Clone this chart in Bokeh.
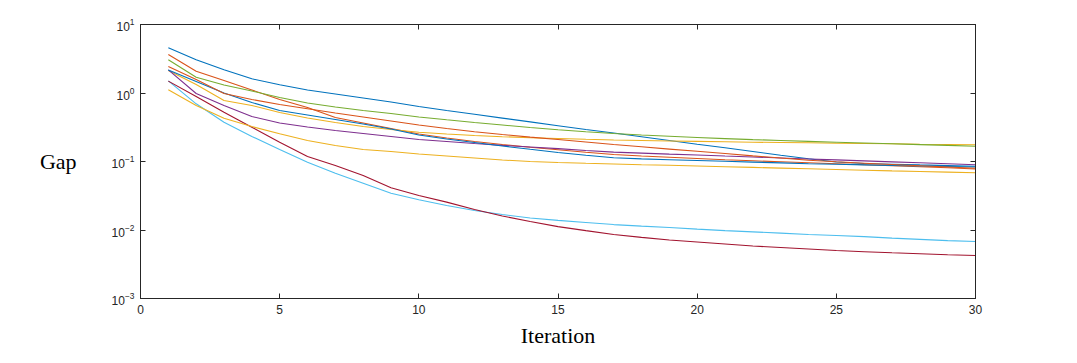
from bokeh.plotting import figure
from bokeh.models import LinearAxis, LogAxis, FixedTicker, Range1d, CustomJSTickFormatter
from bokeh.embed import file_html
from bokeh.resources import INLINE

iterations = list(range(1, 31))

blue_a = [4.57, 3.05, 2.18, 1.61, 1.318, 1.106, 0.967, 0.845, 0.739, 0.635, 0.556, 0.489, 0.430, 0.379, 0.333,
          0.293, 0.260, 0.2296, 0.203, 0.179, 0.1585, 0.140, 0.1236, 0.1094, 0.0984, 0.0935, 0.0914, 0.0892, 0.0871, 0.0851]
orange_a = [3.65, 2.08, 1.52, 1.106, 0.803, 0.614, 0.439, 0.365, 0.303, 0.252, 0.2203, 0.196, 0.177, 0.1617, 0.1486,
            0.1367, 0.1265, 0.1203, 0.1151, 0.1106, 0.1062, 0.1024, 0.0991, 0.0958, 0.0925, 0.0895, 0.0866, 0.0837, 0.0810, 0.0778]
yellow_a = [2.13, 1.33, 0.778, 0.658, 0.519, 0.431, 0.371, 0.324, 0.293, 0.267, 0.252, 0.2396, 0.230, 0.2225, 0.2167,
            0.2109, 0.206, 0.2027, 0.1992, 0.1965, 0.194, 0.1913, 0.1892, 0.1875, 0.185, 0.1832, 0.1813, 0.179, 0.1772, 0.1754]
purple = [2.17, 0.984, 0.658, 0.454, 0.365, 0.319, 0.284, 0.2565, 0.2317, 0.2094, 0.196, 0.183, 0.172, 0.163, 0.154,
          0.145, 0.137, 0.1327, 0.1283, 0.1245, 0.1203, 0.1164, 0.1125, 0.109, 0.1055, 0.102, 0.0987, 0.0957, 0.0925, 0.0895]
green = [3.05, 1.70, 1.309, 1.069, 0.859, 0.714, 0.625, 0.556, 0.502, 0.447, 0.406, 0.371, 0.341, 0.313, 0.290,
         0.2715, 0.2564, 0.2437, 0.2333, 0.224, 0.2159, 0.2088, 0.2026, 0.1965, 0.1913, 0.1862, 0.1813, 0.1765, 0.1718, 0.1672]
light_blue = [1.50, 0.695, 0.375, 0.232, 0.150, 0.0977, 0.0675, 0.0482, 0.0344, 0.0276, 0.0228, 0.0193, 0.0168, 0.0150, 0.0138,
              0.0129, 0.0120, 0.0114, 0.0109, 0.0103, 0.0098, 0.0094, 0.0090, 0.0086, 0.0083, 0.0080, 0.0076, 0.0073, 0.0070, 0.0068]
dark_red = [1.49, 0.889, 0.525, 0.317, 0.191, 0.118, 0.0875, 0.0625, 0.0413, 0.0319, 0.0255, 0.0199, 0.0160, 0.0133, 0.0112,
            0.0098, 0.0086, 0.0078, 0.00715, 0.00668, 0.00625, 0.00584, 0.00556, 0.00528, 0.00502, 0.00482, 0.00465, 0.00450, 0.00436, 0.00425]
blue_b = [2.17, 1.472, 1.0, 0.726, 0.556, 0.4775, 0.410, 0.3524, 0.298, 0.2438, 0.2130, 0.1892, 0.1683, 0.1507, 0.1352,
          0.1233, 0.1136, 0.1094, 0.1062, 0.1035, 0.1007, 0.0980, 0.0954, 0.0929, 0.0910, 0.0892, 0.0875, 0.0860, 0.0845, 0.0831]
orange_b = [2.44, 1.574, 0.984, 0.803, 0.679, 0.588, 0.510, 0.4465, 0.390, 0.341, 0.303, 0.272, 0.248, 0.227, 0.2094,
            0.1926, 0.177, 0.164, 0.1518, 0.141, 0.131, 0.121, 0.1124, 0.1044, 0.099, 0.0945, 0.0904, 0.0866, 0.0831, 0.0798]
yellow_b = [1.114, 0.657, 0.429, 0.324, 0.254, 0.203, 0.171, 0.150, 0.140, 0.1285, 0.120, 0.1124, 0.1051, 0.100, 0.0967,
            0.0941, 0.092, 0.0898, 0.0881, 0.0860, 0.0840, 0.0820, 0.0801, 0.0782, 0.0764, 0.0746, 0.0729, 0.0715, 0.0700, 0.0684]

x_ticks = [0, 5, 10, 15, 20, 25, 30]
y_ticks = [1e-3, 1e-2, 1e-1, 1e0, 1e1]
x_title = "Iteration"
y_title = "Gap"

series = [
    (blue_a, "#0072BD"),
    (orange_a, "#D95319"),
    (yellow_a, "#EDB120"),
    (purple, "#7E2F8E"),
    (green, "#77AC30"),
    (light_blue, "#4DBEEE"),
    (dark_red, "#A2142F"),
    (blue_b, "#0072BD"),
    (orange_b, "#D95319"),
    (yellow_b, "#EDB120"),
]

AX = "#262626"
TICK_FONT = "Liberation Sans"
TITLE_FONT = "Liberation Serif"

p = figure(width=1077, height=363, y_axis_type="log",
           x_range=Range1d(0, 30), y_range=Range1d(1e-3, 1e1),
           output_backend="svg", toolbar_location=None,
           min_border_left=140, min_border_right=102, min_border_top=24, min_border_bottom=65)
p.background_fill_color = "white"
p.border_fill_color = "white"
p.outline_line_color = AX
p.outline_line_width = 1
p.xgrid.visible = False
p.ygrid.visible = False

for ys, c in series:
    p.line(iterations, ys, line_color=c, line_width=1.1)

def style_axis(ax):
    ax.axis_line_color = AX
    ax.axis_line_width = 1
    ax.major_tick_line_color = AX
    ax.major_tick_in = 5
    ax.major_tick_out = 0
    ax.minor_tick_line_color = None
    ax.major_label_text_font = TICK_FONT
    ax.major_label_text_font_size = "12px"
    ax.major_label_text_color = AX
    ax.major_label_standoff = 6

xa = p.xaxis[0]
style_axis(xa)
xa.ticker = FixedTicker(ticks=x_ticks)
xa.axis_label = x_title
xa.axis_label_text_font = TITLE_FONT
xa.axis_label_text_font_size = "22px"
xa.axis_label_text_font_style = "normal"
xa.axis_label_text_color = "black"
xa.axis_label_standoff = 6

ya = p.yaxis[0]
style_axis(ya)
ya.ticker = FixedTicker(ticks=y_ticks)
ya.axis_label = y_title
ya.axis_label_text_font = TITLE_FONT
ya.axis_label_text_font_size = "22px"
ya.axis_label_text_font_style = "normal"
ya.axis_label_text_color = "black"
if "axis_label_orientation" in ya.properties():
    ya.axis_label_orientation = "horizontal"
    ya.axis_label_standoff = 32
else:
    ya.axis_label_standoff = 30

top = LinearAxis(ticker=FixedTicker(ticks=x_ticks), formatter=CustomJSTickFormatter(code="return ''"))
style_axis(top)
top.major_label_standoff = 0
p.add_layout(top, "above")

right = LogAxis(ticker=FixedTicker(ticks=y_ticks), formatter=CustomJSTickFormatter(code="return ''"))
style_axis(right)
right.major_label_standoff = 0
p.add_layout(right, "right")

open("out.html", "w").write(file_html(p, INLINE))
